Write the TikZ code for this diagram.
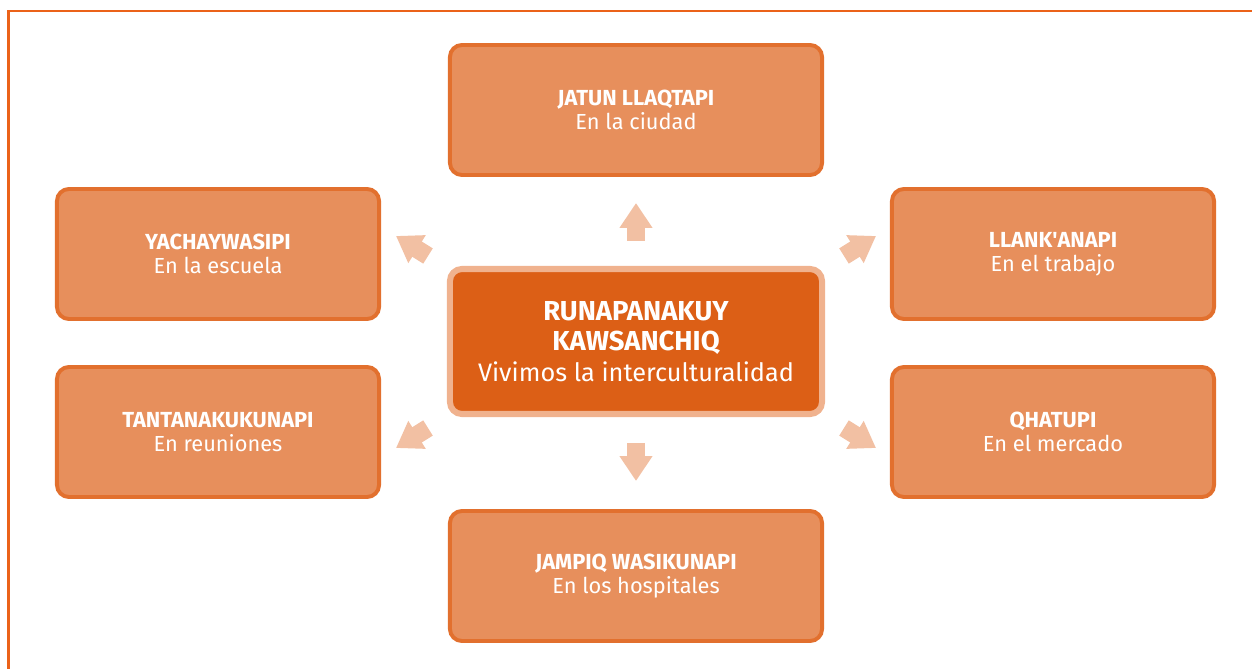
\documentclass[tikz,border=0pt]{standalone}
\usepackage{fontspec}
\setmainfont{Fira Sans}
\newfontfamily\rawfont{Fira Sans}
\usepackage{xcolor}
\usetikzlibrary{arrows.meta, positioning}

\definecolor{boxfill}{RGB}{231,143,92}
\definecolor{boxline}{RGB}{226,112,46}
\definecolor{corefill}{RGB}{220,95,22}
\definecolor{coreline}{RGB}{240,178,142}
\definecolor{peach}{RGB}{242,192,163}
\definecolor{framec}{RGB}{235,98,25}

\begin{document}
\begin{tikzpicture}[
  x=0.025cm, y=-0.025cm,
  place/.style = {draw=boxline, fill=boxfill, line width=2.8pt, rounded corners=0.3cm,
                  minimum width=9.3cm, minimum height=3.25cm, align=center,
                  text=white, font=\fontsize{15.5}{17}\selectfont},
  side/.style  = {place, minimum width=8.05cm},
  core/.style  = {draw=coreline, fill=corefill, line width=4.3pt, rounded corners=0.3cm,
                  minimum width=9.3cm, minimum height=3.625cm, align=center,
                  text=white, font=\fontsize{18}{21.5}\selectfont},
  push/.style  = {-{Triangle[length=0.62cm, width=0.78cm]}, line width=0.45cm, peach},
  framing/.style = {framec, line width=1.8pt},
]

\useasboundingbox (0,0) rectangle (1252,669);

% ── Frame (top and left only) ────────────────────────────────────────────────
\draw[framing] (8.7,669) -- (8.7,11) -- (1252,11);

% ── Central node ──────────────────────────────────────────────────────────────
\node[core] (core) at (636,341.5)
  {{\fontsize{19.5}{21.5}\selectfont\bfseries RUNAPANAKUY}\\
   {\fontsize{19.5}{21.5}\selectfont\bfseries KAWSANCHIQ}\\
   Vivimos la interculturalidad};

% ── Surrounding places ────────────────────────────────────────────────────────
\node[place] (city)    at (636,110)  {\textbf{JATUN LLAQTAPI}\\En la ciudad};
\node[place] (hosp)    at (636,576)  {\textbf{JAMPIQ WASIKUNAPI}\\En los hospitales};
\node[side]  (school)  at (218,254)  {\textbf{YACHAYWASIPI}\\En la escuela};
\node[side]  (meet)    at (218,432)  {\textbf{TANTANAKUKUNAPI}\\En reuniones};
\node[side]  (work)    at (1053,254) {\textbf{LLANK{\rawfont'}ANAPI}\\En el trabajo};
\node[side]  (market)  at (1053,432) {\textbf{QHATUPI}\\En el mercado};

% ── Arrow anchors ─────────────────────────────────────────────────────────────
\coordinate (up0) at (636,241);  \coordinate (up1) at (636,203);
\coordinate (dn0) at (636,443);  \coordinate (dn1) at (636,481);
\coordinate (ul0) at (428,256);  \coordinate (ul1) at (396,236);
\coordinate (ur0) at (844,256);  \coordinate (ur1) at (876,236);
\coordinate (ll0) at (428,428);  \coordinate (ll1) at (396,448);
\coordinate (lr0) at (844,428);  \coordinate (lr1) at (876,448);

% ── Arrows ────────────────────────────────────────────────────────────────────
\foreach \a in {up, dn, ul, ur, ll, lr}
  \draw[push] (\a0) -- (\a1);

\end{tikzpicture}
\end{document}
